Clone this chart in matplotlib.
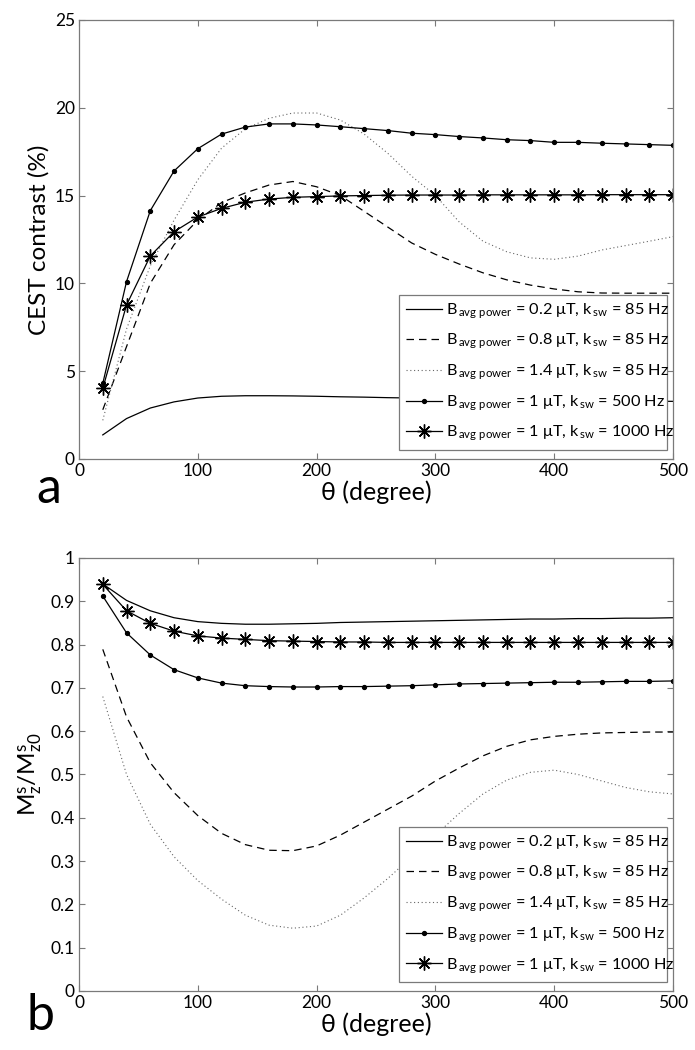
import matplotlib
matplotlib.use('Agg')
import matplotlib.pyplot as plt
import numpy as np

# 字体设置
plt.rcParams['font.family'] = ['Lato', 'DejaVu Sans']
plt.rcParams['mathtext.fontset'] = 'custom'
plt.rcParams['mathtext.rm'] = 'Lato'
plt.rcParams['mathtext.it'] = 'Lato'
plt.rcParams['mathtext.bf'] = 'Lato'

# 横坐标 θ (degree)
theta = [20, 40, 60, 80, 100, 120, 140, 160, 180, 200, 220, 240, 260,
         280, 300, 320, 340, 360, 380, 400, 420, 440, 460, 480, 500]

legend_labels = [
    r'B$_{\,\mathrm{avg\ power}}$ = 0.2 μT, k$_{\,\mathrm{sw}}$ = 85 Hz',
    r'B$_{\,\mathrm{avg\ power}}$ = 0.8 μT, k$_{\,\mathrm{sw}}$ = 85 Hz',
    r'B$_{\,\mathrm{avg\ power}}$ = 1.4 μT, k$_{\,\mathrm{sw}}$ = 85 Hz',
    r'B$_{\,\mathrm{avg\ power}}$ = 1 μT, k$_{\,\mathrm{sw}}$ = 500 Hz',
    r'B$_{\,\mathrm{avg\ power}}$ = 1 μT, k$_{\,\mathrm{sw}}$ = 1000 Hz',
]

# (a) CEST contrast (%)
cest_b02 = [1.37, 2.3, 2.9, 3.25, 3.47, 3.57, 3.6, 3.6, 3.59, 3.57, 3.54, 3.52, 3.49,
            3.47, 3.45, 3.43, 3.41, 3.39, 3.37, 3.35, 3.33, 3.32, 3.3, 3.29, 3.28]
cest_b08 = [2.8, 6.4, 10.0, 12.2, 13.6, 14.6, 15.15, 15.6, 15.8, 15.5, 15.0, 14.1, 13.2,
            12.3, 11.65, 11.1, 10.6, 10.2, 9.9, 9.68, 9.52, 9.45, 9.44, 9.44, 9.44]
cest_b14 = [2.2, 7.4, 11.0, 13.6, 15.9, 17.7, 18.8, 19.4, 19.7, 19.7, 19.3, 18.5, 17.4,
            16.1, 15.0, 13.5, 12.4, 11.8, 11.45, 11.37, 11.55, 11.9, 12.15, 12.4, 12.66]
cest_k500 = [4.3, 10.1, 14.14, 16.4, 17.67, 18.5, 18.9, 19.08, 19.08, 19.02, 18.92, 18.81, 18.7,
             18.55, 18.47, 18.36, 18.28, 18.18, 18.13, 18.03, 18.03, 17.98, 17.94, 17.9, 17.86]
cest_k1000 = [4.02, 8.77, 11.56, 12.94, 13.78, 14.27, 14.62, 14.8, 14.9, 14.94, 14.98, 15.0, 15.02,
              15.03, 15.03, 15.03, 15.04, 15.04, 15.04, 15.04, 15.04, 15.05, 15.05, 15.05, 15.05]

# (b) M_z^s / M_z0^s
mz_b02 = [0.94, 0.902, 0.878, 0.862, 0.853, 0.849, 0.847, 0.847, 0.848, 0.849, 0.851, 0.852, 0.853,
          0.854, 0.855, 0.856, 0.857, 0.858, 0.859, 0.859, 0.86, 0.86, 0.861, 0.861, 0.862]
mz_b08 = [0.789, 0.633, 0.527, 0.458, 0.405, 0.364, 0.338, 0.325, 0.324, 0.335, 0.36, 0.39, 0.42,
          0.45, 0.485, 0.515, 0.543, 0.565, 0.58, 0.588, 0.593, 0.596, 0.597, 0.598, 0.598]
mz_b14 = [0.68, 0.5, 0.385, 0.31, 0.255, 0.212, 0.175, 0.152, 0.145, 0.15, 0.175, 0.215, 0.26,
          0.31, 0.36, 0.41, 0.455, 0.487, 0.505, 0.51, 0.5, 0.485, 0.47, 0.46, 0.455]
mz_k500 = [0.912, 0.827, 0.776, 0.742, 0.723, 0.711, 0.705, 0.703, 0.702, 0.702, 0.703, 0.703, 0.704,
           0.705, 0.707, 0.709, 0.71, 0.711, 0.712, 0.713, 0.713, 0.714, 0.715, 0.715, 0.716]
mz_k1000 = [0.939, 0.878, 0.849, 0.831, 0.82, 0.815, 0.812, 0.809, 0.808, 0.807, 0.806, 0.806, 0.805,
            0.805, 0.805, 0.805, 0.805, 0.805, 0.805, 0.805, 0.805, 0.805, 0.805, 0.805, 0.805]

AXIS_GRAY = '#7a7a7a'
ASTERISK = (8, 2, 0)


def draw_panel(ax, series, ylim, yticks, yticklabels, ylabel):
    s_b02, s_b08, s_b14, s_k500, s_k1000 = series
    ax.plot(theta, s_b02, color='black', lw=0.9, ls='-', label=legend_labels[0])
    ax.plot(theta, s_b08, color='black', lw=0.9, ls=(0, (6, 4)), label=legend_labels[1])
    ax.plot(theta, s_b14, color='#666666', lw=0.8, ls=(0, (1, 2.4)), label=legend_labels[2])
    ax.plot(theta, s_k500, color='black', lw=0.9, ls='-', marker='o', ms=2.8,
            label=legend_labels[3])
    ax.plot(theta, s_k1000, color='black', lw=0.9, ls='-', marker=ASTERISK, ms=10,
            mew=1.0, label=legend_labels[4])

    ax.set_xlim(0, 500)
    ax.set_ylim(*ylim)
    ax.set_xticks([0, 100, 200, 300, 400, 500])
    ax.set_yticks(yticks)
    ax.set_yticklabels(yticklabels)
    ax.tick_params(direction='in', top=True, right=True, length=4, width=0.8,
                   color=AXIS_GRAY, labelsize=12.5, pad=3)
    for sp in ax.spines.values():
        sp.set_color(AXIS_GRAY)
        sp.set_linewidth(0.9)
    ax.set_xlabel('θ (degree)', fontsize=18, labelpad=1)
    ax.set_ylabel(ylabel, fontsize=17.5, labelpad=4)

    leg = ax.legend(loc='lower left', bbox_to_anchor=(0.539, 0.02, 0.451, 0.34),
                    mode='expand', fontsize=11.7, frameon=True, fancybox=False,
                    framealpha=1, edgecolor=AXIS_GRAY, handlelength=2.2,
                    handletextpad=0.25, borderpad=0.42, labelspacing=0.7,
                    borderaxespad=0)
    leg.get_frame().set_linewidth(0.9)
    return leg


fig = plt.figure(figsize=(6.95, 10.5), dpi=100)
ax_a = fig.add_axes([0.1137, 0.5629, 0.8547, 0.4181])
ax_b = fig.add_axes([0.1137, 0.0562, 0.8547, 0.4124])

draw_panel(ax_a, [cest_b02, cest_b08, cest_b14, cest_k500, cest_k1000],
           (0, 25), [0, 5, 10, 15, 20, 25], ['0', '5', '10', '15', '20', '25'],
           'CEST contrast (%)')
draw_panel(ax_b, [mz_b02, mz_b08, mz_b14, mz_k500, mz_k1000],
           (0, 1), [0, 0.1, 0.2, 0.3, 0.4, 0.5, 0.6, 0.7, 0.8, 0.9, 1],
           ['0', '0.1', '0.2', '0.3', '0.4', '0.5', '0.6', '0.7', '0.8', '0.9', '1'],
           r'M$^{\mathrm{s}}_{\mathrm{z}}$/M$^{\mathrm{s}}_{\mathrm{z0}}$')

# 面板字母
fig.text(0.052, 1 - 503 / 1050, 'a', fontsize=36, ha='left', va='baseline')
fig.text(0.038, 1 - 1030 / 1050, 'b', fontsize=36, ha='left', va='baseline')

fig.savefig('out.png', dpi=100, facecolor='white')
